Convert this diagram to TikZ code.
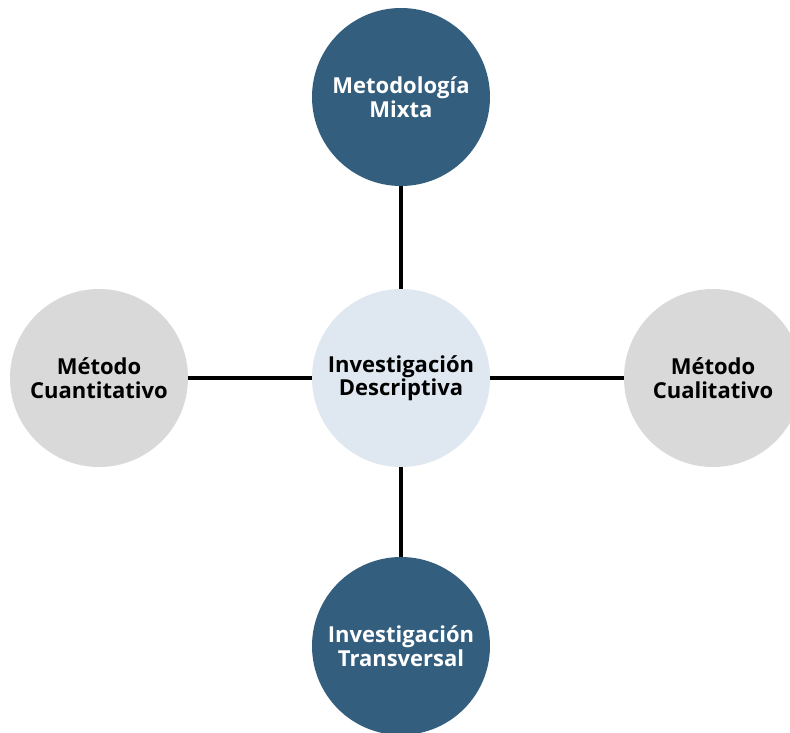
\documentclass[tikz,border=0pt]{standalone}
\usepackage{fontspec}
\setmainfont{Open Sans}
\usepackage{tikz}
\usetikzlibrary{positioning,calc}

\definecolor{darkblue}{RGB}{51,94,126}
\definecolor{lightblue}{RGB}{223,232,240}
\definecolor{lightgray}{RGB}{217,217,217}

\begin{document}
\begin{tikzpicture}[x=1pt,y=-1pt,
  circ/.style={circle, draw=none, minimum size=178pt, inner sep=0pt, align=center,
    font=\bfseries\fontsize{22}{24}\selectfont},
  dark/.style={circ, fill=darkblue, text=white},
  grey/.style={circ, fill=lightgray, text=black},
  link/.style={line width=3.5pt, black}
]

\clip (0,0) rectangle (790,733);
\fill[white] (0,0) rectangle (790,733);

\node[circ, fill=lightblue, text=black, font=\bfseries\fontsize{22}{19}\selectfont] (desc) at (401,378) {Investigación\\Descriptiva};
\node[dark] (mixta) at (401,97) {Metodología\\Mixta};
\node[dark] (trans) at (401,646) {Investigación\\Transversal};
\node[grey] (cuant) at (99,378) {Método\\Cuantitativo};
\node[grey] (cual) at (713,378) {Método\\Cualitativo};

\draw[link] (mixta) -- (desc);
\draw[link] (desc) -- (trans);
\draw[link] (cuant) -- (desc);
\draw[link] (desc) -- (cual);

\end{tikzpicture}
\end{document}
